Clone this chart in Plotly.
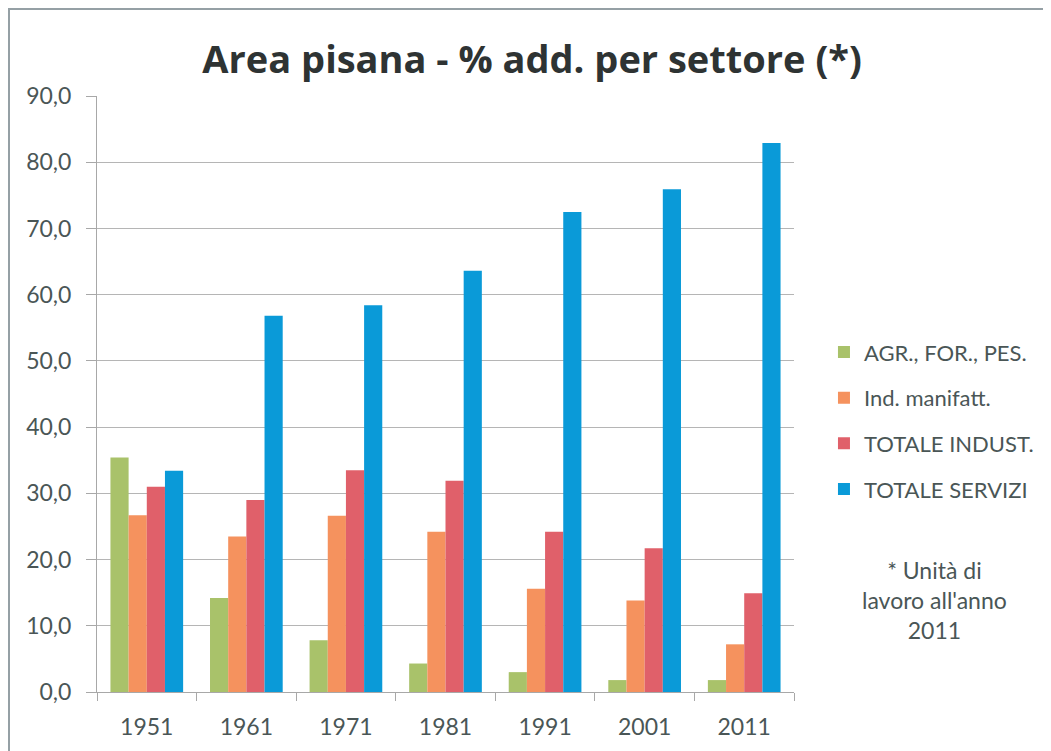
import plotly.graph_objects as go

years = ["1951", "1961", "1971", "1981", "1991", "2001", "2011"]
agr = [35.4, 14.2, 7.8, 4.3, 3.0, 1.8, 1.8]
manif = [26.7, 23.5, 26.6, 24.2, 15.6, 13.8, 7.2]
tot_ind = [31.0, 29.0, 33.5, 31.9, 24.2, 21.7, 14.9]
tot_serv = [33.4, 56.8, 58.4, 63.6, 72.5, 75.9, 82.9]

series_names = ["AGR., FOR., PES.", "Ind. manifatt.", "TOTALE INDUST.", "TOTALE SERVIZI"]
series_vals = [agr, manif, tot_ind, tot_serv]
colors = ["#A9C26A", "#F5925E", "#E0606A", "#0A9AD8"]

FONT = "Lato"
TXT = "#4A5656"
AX = "#A8A8A8"

W, H = 1043, 743
ML, MT, MR, MB = 89, 88, 257, 59
PW = W - ML - MR
PH = H - MT - MB

fig = go.Figure()
for name, vals, col in zip(series_names, series_vals, colors):
    fig.add_trace(go.Bar(x=years, y=vals, name=name, marker_color=col,
                         marker_line_width=0, legendgroup=name))

fig.update_layout(
    width=W, height=H,
    margin=dict(l=ML, r=MR, t=MT, b=MB),
    paper_bgcolor="white", plot_bgcolor="white",
    barmode="group", bargap=0.27, bargroupgap=0,
    separators=",.",
    font=dict(family=FONT, color=TXT),
    title=dict(text="<b>Area pisana - % add. per settore (*)</b>",
               x=0.5025, xanchor="center", xref="container",
               y=0.93, yanchor="middle", yref="container",
               font=dict(family="Open Sans", size=38, color="#2E3333")),
    legend=dict(x=1.043, xanchor="left", y=0.455, yanchor="middle",
                font=dict(family=FONT, size=22, color=TXT),
                tracegroupgap=14, itemclick=False, bgcolor="rgba(0,0,0,0)"),
    showlegend=True,
)

fig.update_xaxes(
    type="category", showline=True, linecolor=AX, linewidth=1,
    ticks="outside", tickson="boundaries", ticklen=8, tickcolor=AX,
    ticklabelstandoff=14,
    tickfont=dict(family=FONT, size=23, color=TXT), showgrid=False,
)
fig.update_yaxes(
    range=[0, 90], dtick=10, tickformat=".1f",
    showline=True, linecolor=AX, linewidth=1,
    ticks="outside", ticklen=10, tickcolor=AX, ticklabelstandoff=10,
    showgrid=True, gridcolor="#B5B5B5", gridwidth=1,
    tickfont=dict(family=FONT, size=23, color=TXT), zeroline=False,
)

fig.add_annotation(
    text="* Unità di<br>lavoro all'anno<br>2011",
    xref="paper", yref="paper", x=1.201, y=0.154,
    xanchor="center", yanchor="middle", showarrow=False, align="center",
    font=dict(family=FONT, size=23, color=TXT),
)

# chart frame border
fig.add_shape(type="rect", xref="paper", yref="paper",
              x0=-(ML - 1) / PW, x1=1.5, y0=-0.2, y1=1 + (MT - 1) / PH,
              line=dict(color="#95A0A5", width=2), fillcolor="rgba(0,0,0,0)", layer="below")

fig.write_html("out.html")
